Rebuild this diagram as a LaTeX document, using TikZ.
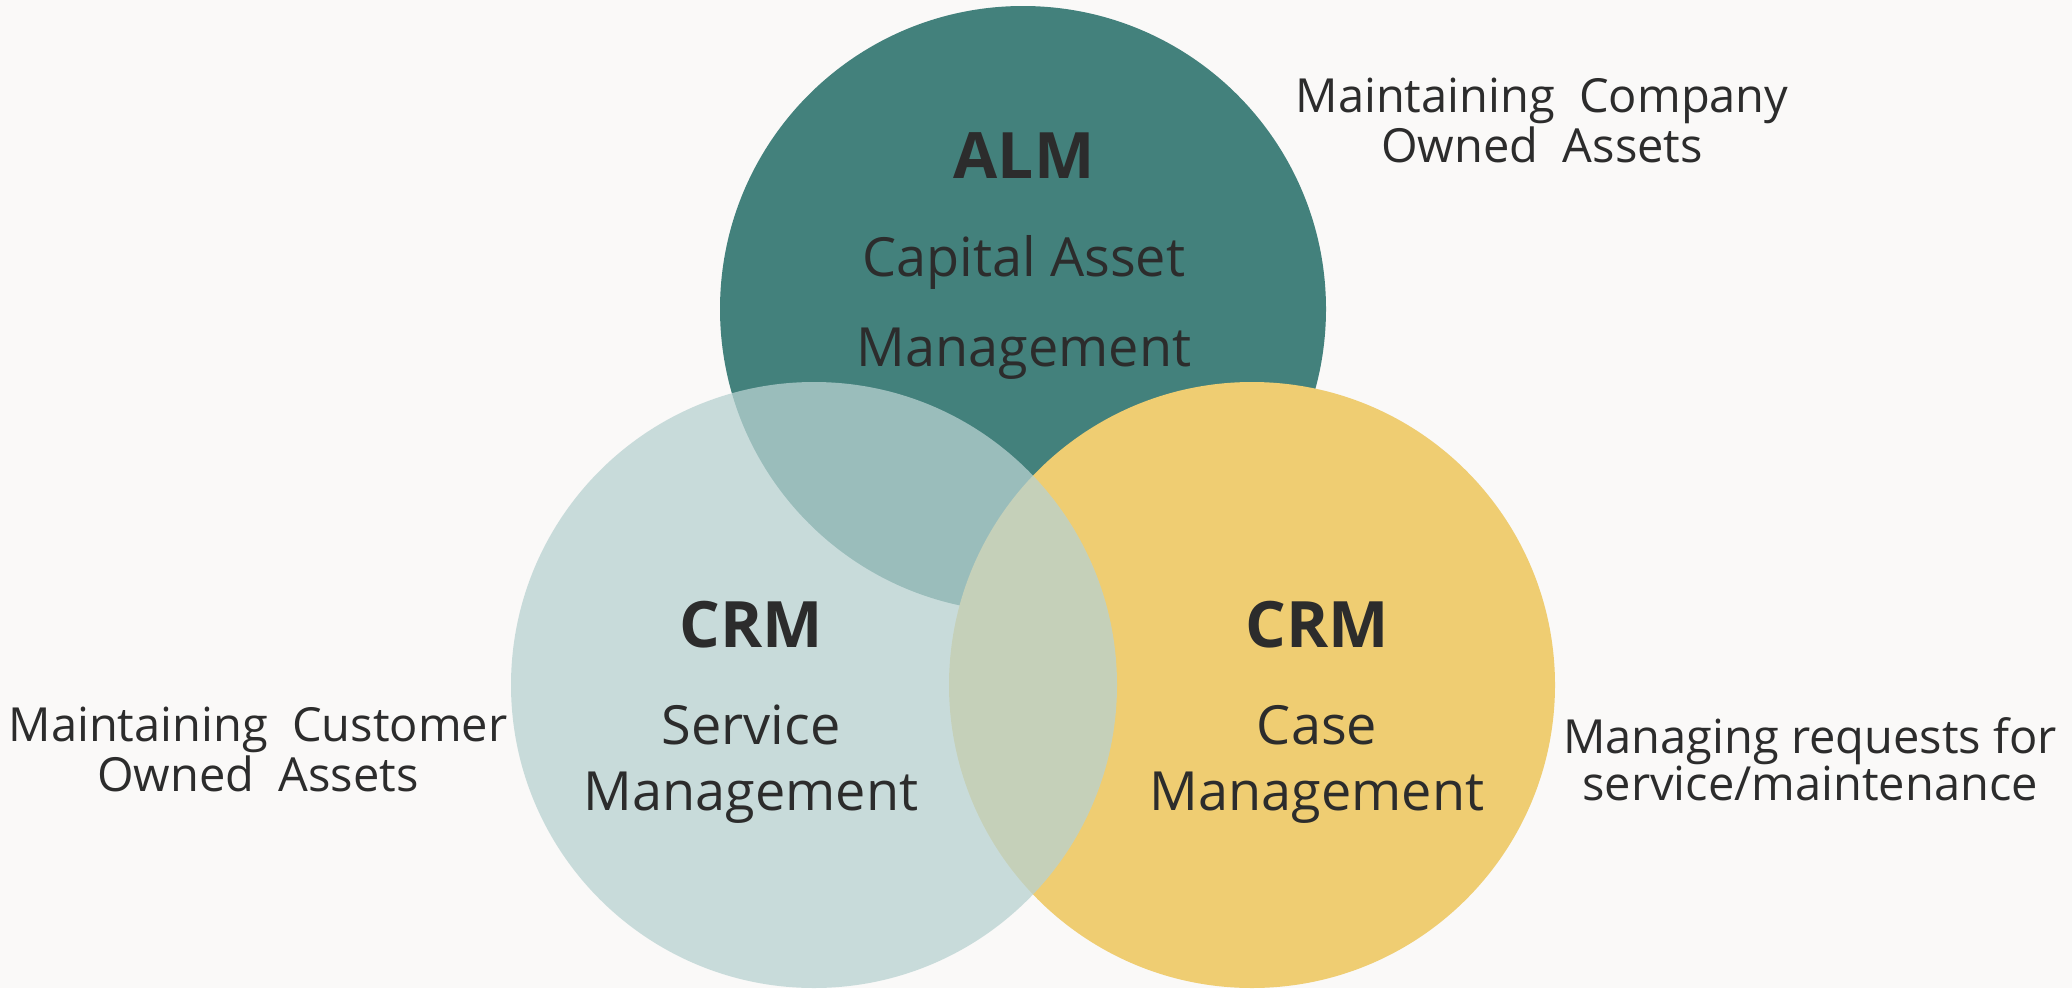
\documentclass[tikz,border=0pt]{standalone}
\usepackage{fontspec}
\setmainfont{Open Sans}
\definecolor{bgpaper}{HTML}{FAF9F8}
\definecolor{almteal}{HTML}{43817C}
\definecolor{caseyellow}{HTML}{EFCD72}
\definecolor{servblue}{HTML}{B8D2D1}
\definecolor{inkdark}{HTML}{2C2C2C}
\tikzset{
  disc/.style={circle, draw=none, minimum size=606pt, inner sep=0pt},
  headword/.style={anchor=base, inner sep=0pt, text=inkdark, font=\fontsize{64}{64}\selectfont\bfseries},
  bodyline/.style={anchor=base, inner sep=0pt, text=inkdark, font=\fontsize{54}{54}\selectfont},
  sideline/.style={anchor=base, inner sep=0pt, text=inkdark, font=\fontsize{47}{47}\selectfont}
}
\begin{document}
\begin{tikzpicture}[x=1pt, y=-1pt]
  % paper
  \fill[bgpaper] (0,0) rectangle (2072,988);
  \useasboundingbox (0,0) rectangle (2072,988);

  % the three discs: ALM underneath, case management opaque, service management translucent on top
  \node[disc, fill=almteal] (alm) at (1023,309) {};
  \node[disc, fill=caseyellow] (casem) at (1252,685) {};
  \node[disc, fill=servblue, fill opacity=0.75] (servm) at (814,685) {};

  % ALM disc text
  \node[headword] (almhead) at (1024,178) {ALM};
  \node[bodyline] (almline1) at (1024,276) {Capital Asset};
  \node[bodyline] (almline2) at (1024,366) {Management};

  % service management disc text
  \node[headword] (servhead) at (751,647) {CRM};
  \node[bodyline] (servline1) at (751,744) {Service};
  \node[bodyline] (servline2) at (751,810) {Management};

  % case management disc text
  \node[headword] (casehead) at (1317,647) {CRM};
  \node[bodyline] (caseline1) at (1317,744) {Case};
  \node[bodyline] (caseline2) at (1317,810) {Management};

  % side captions
  \node[sideline] (compline1) at (1542,112) {Maintaining\ \ Company};
  \node[sideline] (compline2) at (1542,162) {Owned\ \ Assets};

  \node[sideline] (custline1) at (258,741) {Maintaining\ \ Customer};
  \node[sideline] (custline2) at (258,791) {Owned\ \ Assets};

  \node[sideline] (reqline1) at (1810,753) {Managing requests for};
  \node[sideline] (reqline2) at (1810,800) {service/maintenance};
\end{tikzpicture}
\end{document}
